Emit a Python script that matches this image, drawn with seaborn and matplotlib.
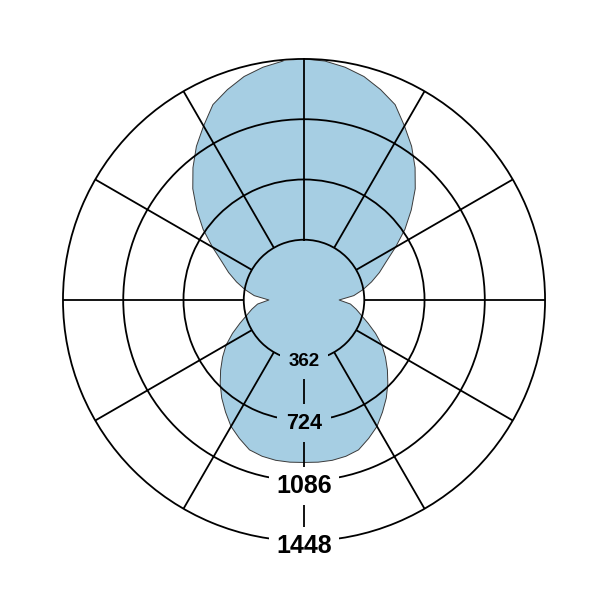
import numpy as np
import seaborn as sns
import matplotlib.pyplot as plt

# angle (deg, clockwise from top) and radius values
angles = list(range(0, 360, 5))
values = [1448, 1441, 1420, 1390, 1345, 1295, 1207, 1127, 1038, 945,
          841, 740, 635, 545, 482, 420, 360, 300, 211, 280,
          318, 357, 410, 474, 540, 597, 654, 712, 769, 822,
          877, 918, 958, 972, 978, 978, 976, 978, 978, 972,
          958, 918, 877, 822, 769, 712, 654, 597, 540, 474,
          410, 357, 318, 280, 211, 300, 360, 420, 482, 545,
          635, 740, 841, 945, 1038, 1127, 1207, 1295, 1345, 1390,
          1420, 1441]

ring_ticks = [362, 724, 1086, 1448]
ring_label_sizes = [13.5, 15.5, 18, 18]
ring_label_shift = [10, 15, 30, 30]
ring_label_pad = [0.45, 0.4, 0.28, 0.28]
spoke_angles = list(range(0, 360, 30))

sns.set_theme(style='white')
plt.rcParams['font.family'] = ['Liberation Sans', 'DejaVu Sans']
fill_color = sns.color_palette('Paired')[0]

fig = plt.figure(figsize=(6.01, 6.01), dpi=100)
ax = fig.add_axes([0.0987, 0.0937, 0.8143, 0.8143], projection='polar')
ax.set_theta_zero_location('N')
ax.set_theta_direction(-1)

theta = np.deg2rad(angles + angles[:1])
r = values + values[:1]
ax.fill(theta, r, facecolor=fill_color, edgecolor='none', zorder=1)
sns.lineplot(x=theta, y=r, sort=False, ax=ax, color='#3a3a3a', lw=0.7, zorder=1.5)

ax.set_ylim(0, 1470)
ax.set_yticks(ring_ticks)
ax.set_yticklabels([])
ax.set_xticks(np.deg2rad(spoke_angles))
ax.set_xticklabels([])
ax.grid(False)
ax.yaxis.grid(True, color='black', lw=1.3)
ax.set_axisbelow(False)
ax.spines['polar'].set_visible(False)

# spokes start at the first ring
ax.vlines(np.deg2rad(spoke_angles), ring_ticks[0], ring_ticks[-1],
          color='black', lw=1.3, zorder=2)

for val, size, shift, pad in zip(ring_ticks, ring_label_sizes, ring_label_shift, ring_label_pad):
    bg = fill_color if val <= 724 else 'white'
    ax.text(np.pi, val + shift, str(val), ha='center', va='center', fontsize=size,
            fontweight='bold', color='black', zorder=5,
            bbox=dict(boxstyle='square,pad=%s' % pad, fc=bg, ec='none'))

fig.savefig('out.png', dpi=100)
